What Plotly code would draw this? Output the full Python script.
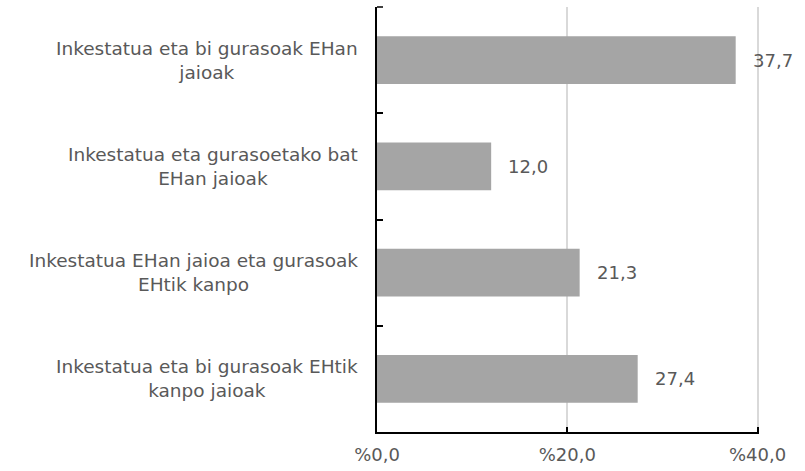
import plotly.graph_objects as go

categories = [
    "Inkestatua eta bi gurasoak EHan<br>jaioak",
    "Inkestatua eta gurasoetako bat<br>EHan jaioak",
    "Inkestatua EHan jaioa eta gurasoak<br>EHtik kanpo",
    "Inkestatua eta bi gurasoak EHtik<br>kanpo jaioak",
]
values = [37.7, 12.0, 21.3, 27.4]
x_ticks = [0, 20, 40]
x_tick_labels = ["%0,0", "%20,0", "%40,0"]

FONT = "Verdana, DejaVu Sans, sans-serif"
GRAY_TEXT = "#595959"

fig = go.Figure(go.Bar(
    x=values, y=categories, orientation="h",
    marker=dict(color="#a5a5a5", line=dict(width=0)),
    hoverinfo="skip",
))

annotations = []
for c, v in zip(categories, values):
    annotations.append(dict(
        x=v, y=c, xref="x", yref="y", text=f"{v:.1f}".replace(".", ","),
        showarrow=False, xanchor="left", xshift=15,
        font=dict(family=FONT, size=18, color=GRAY_TEXT),
    ))
    annotations.append(dict(
        x=0, y=c, xref="paper", yref="y", text=c,
        showarrow=False, xanchor="right", xshift=-17, align="center",
        font=dict(family=FONT, size=18.5, color=GRAY_TEXT),
    ))

fig.update_layout(
    width=805, height=471,
    margin=dict(l=377, r=46, t=7, b=39, autoexpand=False),
    paper_bgcolor="white", plot_bgcolor="white",
    showlegend=False,
    bargap=0.55,
    annotations=annotations,
    shapes=[dict(
        type="line", xref="paper", yref="paper", xsizemode="pixel",
        xanchor=0, x0=0, x1=6, y0=1, y1=1,
        line=dict(color="black", width=1.5),
    )],
    xaxis=dict(
        range=[0, 40.15], tickvals=x_ticks, ticktext=x_tick_labels,
        showgrid=True, gridcolor="#d9d9d9", gridwidth=1.5,
        showline=True, linecolor="black", linewidth=1.5,
        ticks="inside", ticklen=5, tickcolor="black", tickwidth=1.5,
        tickfont=dict(family=FONT, size=18, color=GRAY_TEXT),
        ticklabelstandoff=6,
        zeroline=False, fixedrange=True,
    ),
    yaxis=dict(
        categoryorder="array", categoryarray=categories,
        autorange="reversed",
        showticklabels=False,
        showline=True, linecolor="black", linewidth=1.5,
        ticks="inside", ticklen=6, tickcolor="black", tickwidth=1.5,
        tickson="boundaries",
        showgrid=False, zeroline=False, fixedrange=True,
    ),
)

fig.write_html("out.html", config={"displayModeBar": False},
               post_script="document.body.style.margin='0';")
